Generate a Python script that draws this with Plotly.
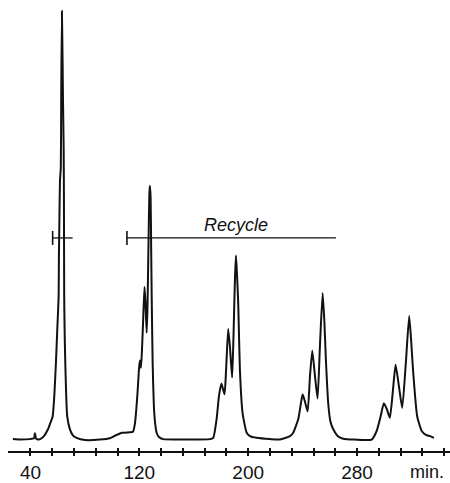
import plotly.graph_objects as go

# Chromatogram trace (time in min, detector response normalised to main peak = 100)
time_min = [27.1, 32.3, 39.6, 42.6, 43.3, 44.0, 45.5, 47.0, 49.9, 52.9, 54.3, 56.3, 57.5, 58.7,
            59.7, 60.7, 60.9, 61.3, 61.7, 62.3, 62.6, 63.1, 63.6, 63.9, 64.4, 64.6, 64.8, 65.1,
            65.6, 66.3, 67.0, 69.0, 71.2, 73.9, 80.0, 91.1, 98.4, 102.8, 107.2, 113.1, 115.3,
            116.8, 118.5, 119.9, 120.5, 121.2, 121.9, 122.9, 123.8, 124.5, 125.4, 126.0, 126.7,
            127.4, 127.8, 128.3, 128.7, 129.1, 129.8, 130.7, 131.7, 132.7, 134.4, 137.4, 157.2,
            171.9, 174.3, 176.8, 178.5, 180.3, 182.6, 183.7, 185.3, 186.6, 188.2, 189.2, 190.3,
            191.0, 191.7, 192.7, 193.9, 195.9, 198.9, 201.3, 206.2, 216.0, 223.3, 230.7, 233.1,
            236.8, 238.4, 240.0, 241.7, 243.7, 245.4, 247.1, 249.1, 251.0, 252.7, 254.7, 256.0,
            257.1, 258.8, 260.4, 262.5, 265.9, 269.8, 278.4, 290.7, 294.4, 297.3, 299.7, 301.9,
            304.1, 306.3, 308.3, 310.8, 313.2, 315.9, 318.3, 319.8, 321.3, 324.2, 327.5, 330.6,
            333.6, 336.5]
signal = [0.0, -0.1, 0.0, 0.2, 1.4, 0.2, -0.1, 0.0, 0.7, 2.3, 3.5, 5.3, 10.0, 17.7,
          25.6, 33.3, 42.6, 51.9, 60.5, 63.5, 79.8, 100.2, 89.1, 79.8, 68.1, 56.5, 33.3, 25.6,
          17.7, 10.0, 5.3, 2.3, 0.9, 0.3, -0.2, -0.1, 0.2, 0.9, 1.5, 1.6, 1.7,
          3.7, 10.0, 17.0, 18.4, 16.7, 20.5, 28.6, 35.6, 32.1, 24.9, 30.9, 44.9,
          57.7, 59.3, 56.5, 44.9, 33.3, 17.7, 7.7, 3.5, 1.5, 0.5, 0.0, -0.1,
          0.0, 0.3, 4.7, 10.0, 13.0, 10.5, 15.8, 25.8, 21.6, 14.4, 24.0, 37.9,
          43.0, 39.1, 31.6, 16.3, 6.0, 1.5, 0.7, 0.3, 0.0, -0.1, 0.7, 1.5,
          4.7, 7.7, 10.5, 8.8, 6.5, 14.7, 20.7, 14.7, 9.5, 21.6, 34.2, 27.4,
          18.6, 8.4, 4.2, 2.3, 0.7, 0.1, -0.1, -0.1, 1.9, 5.3, 8.4, 7.0,
          5.0, 11.2, 17.4, 12.3, 7.3, 18.1, 28.8, 22.8, 15.4, 5.3, 1.9, 1.0,
          0.7, 0.3]

# Fraction cut bars
cut_start, cut_end = 56.3, 71.0
recycle_start, recycle_end = 110.9, 264.5
bar_level = 47.1
recycle_label = "Recycle"

# Axis ticks
tick_vals = [40, 56, 72, 88, 104, 120, 136, 152, 168, 184, 200, 216, 232, 248, 264, 280,
             296, 312, 328, 344]
tick_labels = ["40", "", "", "", "", "120", "", "", "", "", "200", "", "", "", "", "280",
               "", "", "", ""]
x_unit = "min."

x_range = [23.5, 348.3]
y_range = [-2.78, 102.8]
ink = "#111111"

fig = go.Figure()
fig.add_trace(go.Scatter(x=time_min, y=signal, mode="lines",
                         line=dict(color=ink, width=2, shape="spline", smoothing=0.5),
                         hoverinfo="skip", showlegend=False))
for a, b in [(cut_start, cut_end), (recycle_start, recycle_end)]:
    fig.add_trace(go.Scatter(x=[a, b], y=[bar_level, bar_level], mode="lines",
                             line=dict(color=ink, width=1.3), showlegend=False, hoverinfo="skip"))
    fig.add_trace(go.Scatter(x=[a], y=[bar_level], mode="markers",
                             marker=dict(symbol="line-ns-open", size=10, color=ink,
                                         line=dict(color=ink, width=1.6)),
                             showlegend=False, hoverinfo="skip"))
# invisible trace for the overlaid tick axis
fig.add_trace(go.Scatter(x=[x_range[0]], y=[0], xaxis="x2", mode="markers",
                         marker=dict(opacity=0), showlegend=False, hoverinfo="skip"))

fig.add_annotation(x=(recycle_start + recycle_end) / 2 + 3, y=bar_level, yshift=13,
                   text="<i>" + recycle_label + "</i>", showarrow=False,
                   font=dict(size=18, color=ink, family="Liberation Sans"))
fig.add_annotation(x=x_range[1], y=y_range[0], xanchor="right", yanchor="top", yshift=-9,
                   xshift=-4, text=x_unit, showarrow=False,
                   font=dict(size=18, color=ink, family="Liberation Sans"))

axis_common = dict(range=x_range, tickvals=tick_vals, ticktext=tick_labels,
                   showgrid=False, zeroline=False, showline=True, linecolor=ink,
                   linewidth=1.5, tickcolor=ink, tickwidth=1.5, ticklen=3)
fig.update_layout(
    width=450, height=483,
    margin=dict(l=8, r=0, t=0, b=28),
    paper_bgcolor="white", plot_bgcolor="white",
    xaxis=dict(**axis_common, ticks="outside",
               tickfont=dict(size=19, color=ink, family="Liberation Sans")),
    xaxis2=dict(**axis_common, ticks="inside", overlaying="x", anchor="y",
                side="bottom", showticklabels=False),
    yaxis=dict(range=y_range, visible=False),
)
fig.write_html("out.html")
